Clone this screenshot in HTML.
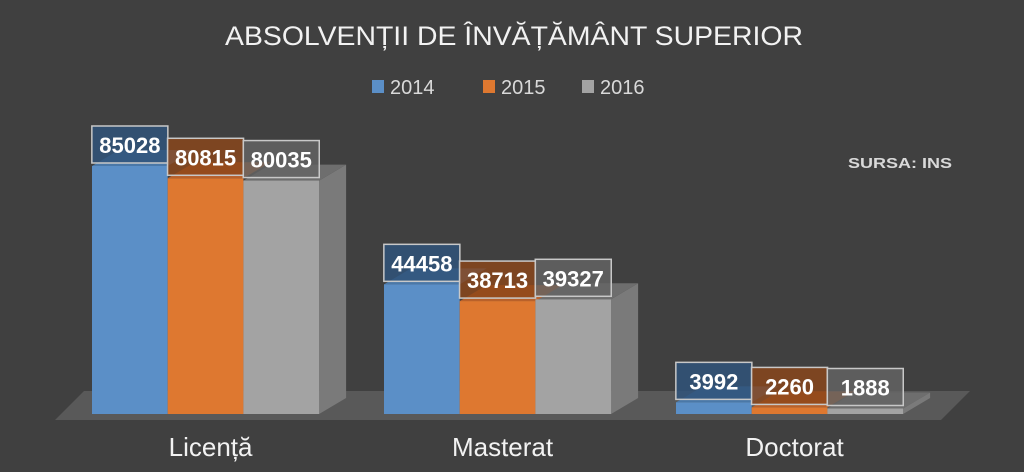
<!DOCTYPE html>
<html><head><meta charset="utf-8"><style>
html,body{margin:0;padding:0;background:#404040;}
svg{display:block;}
text{font-family:"Liberation Sans",sans-serif;}
</style></head><body>
<svg id="chart" width="1024" height="472" viewBox="0 0 1024 472">
<rect x="0" y="0" width="1024" height="472" fill="#404040"/>
<text x="514" y="45" text-anchor="middle" font-size="27" fill="#f2f2f2" textLength="578" lengthAdjust="spacingAndGlyphs">ABSOLVENȚII DE ÎNVĂȚĂMÂNT SUPERIOR</text>
<g id="legend"></g>
<text x="848" y="168" font-size="15" font-weight="bold" fill="#d9d9d9" textLength="104" lengthAdjust="spacingAndGlyphs">SURSA: INS</text>
<polygon points="55,420 941,420 970,391 84,391" fill="#595959"/>
<g id="bars"></g>
<g id="labels"></g>
</svg>
<script>
const categories = ["Licență", "Masterat", "Doctorat"];
const seriesNames = ["2014", "2015", "2016"];
const values2014 = [85028, 44458, 3992];
const values2015 = [80815, 38713, 2260];
const values2016 = [80035, 39327, 1888];

const NS = "http://www.w3.org/2000/svg";
const svg = document.getElementById("chart");
const barsG = document.getElementById("bars");
const labelsG = document.getElementById("labels");
const legendG = document.getElementById("legend");
const series = [values2014, values2015, values2016];
const front = ["#5b8fc7", "#de7830", "#a3a3a3"];
const sideC = ["#3f6c9c", "#a9571f", "#7a7a7a"];
const topC = ["#4a78a8", "#b9612a", "#6e6e6e"];
const boxC = ["rgba(48,84,122,0.85)", "rgba(140,70,25,0.8)", "rgba(100,100,100,0.8)"];
const baseY = 414, maxPx = 248, maxV = 85028;
const y = v => baseY - v / maxV * maxPx;
const groupX = i => 92 + i * 292;
const barW = 75.7, dx = 27, dy = 16;

function mk(tag, attrs, parent) {
  const e = document.createElementNS(NS, tag);
  for (const k in attrs) e.setAttribute(k, attrs[k]);
  parent.appendChild(e);
  return e;
}

categories.forEach((c, i) => {
  const gx = groupX(i);
  for (let s = 2; s >= 0; s--) {
    const v = series[s][i];
    const x0 = gx + s * barW, x1 = x0 + barW, t = y(v);
    if (s === 2) {
      const side = mk("polygon", {points: `${x1},${baseY} ${x1+dx},${baseY-dy} ${x1+dx},${t-dy} ${x1},${t}`, fill: sideC[s]}, barsG);
      
      
    }
    const top = mk("polygon", {points: `${x0},${t} ${x1},${t} ${x1+dx},${t-dy} ${x0+dx},${t-dy}`, fill: topC[s]}, barsG);
    
    
  }
  for (let s = 0; s < 3; s++) {
    const v = series[s][i];
    const x0 = gx + s * barW, t = y(v);
    const r = mk("rect", {x: x0, y: t, width: barW, height: baseY - t, fill: front[s]}, barsG);
    
    
  }
  for (let s = 0; s < 3; s++) {
    const v = series[s][i];
    const cx = gx + s * barW + barW / 2, t = y(v);
    const bb = t - 3;
    const b = mk("rect", {x: cx - 38, y: bb - 37, width: 76, height: 37, fill: boxC[s], stroke: "#c8c8c8", "stroke-width": 1.5}, labelsG);
    
    
    const tx = mk("text", {x: cx, y: bb - 10, "text-anchor": "middle", "font-size": 22, "font-weight": "bold", fill: "#ffffff"}, labelsG);
    tx.textContent = v;
    
    
  }
  const ct = mk("text", {x: gx + barW * 1.5 + 5, y: 456, "text-anchor": "middle", "font-size": 26, fill: "#f2f2f2"}, svg);
  ct.textContent = c;
  
  
});

const legX = [372, 483, 582];
seriesNames.forEach((n, s) => {
  const r = mk("rect", {x: legX[s], y: 80, width: 12, height: 13, fill: front[s]}, legendG);
  
  
  const t = mk("text", {x: legX[s] + 18, y: 94, "font-size": 20, fill: "#d9d9d9"}, legendG);
  t.textContent = n;
  
  
});
</script>
</body></html>
